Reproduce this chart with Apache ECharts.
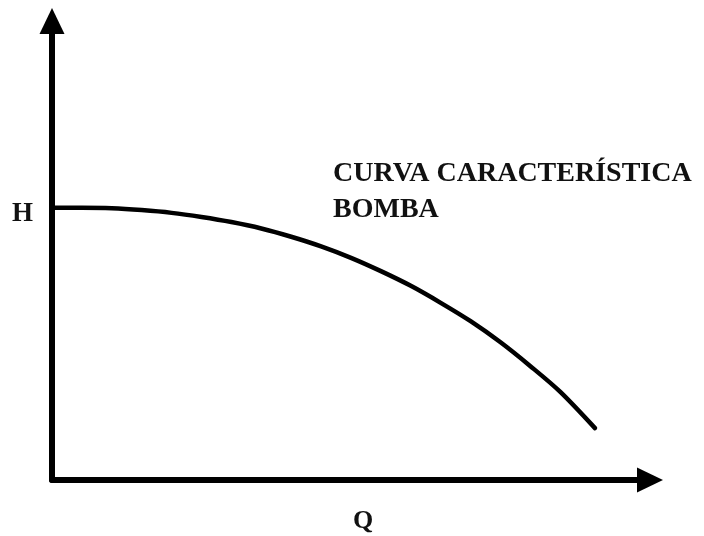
<!DOCTYPE html>
<html>
<head>
<meta charset="utf-8">
<script src="https://cdn.jsdelivr.net/npm/echarts@6/dist/echarts.min.js"></script>
<style>
  html, body { margin: 0; padding: 0; background: #fff; }
  #chart { width: 704px; height: 536px; }
</style>
</head>
<body>
<div id="chart"></div>
<script>
// caudal Q (eje x, 0-100) y altura H (eje y, 0-100)
const flow = [0, 5, 10, 15, 20, 25, 30, 35, 40, 45, 50, 55, 60, 65, 70, 75, 80, 85, 90.8];
const head = [59.3, 59.3, 59.2, 58.8, 58.2, 57.3, 56.2, 54.8, 53.0, 50.9, 48.4, 45.5, 42.3, 38.6, 34.6, 30.0, 24.8, 19.2, 11.3];
const xName = "Q";
const yName = "H";
const curveLabel = ["CURVA CARACTERÍSTICA", "BOMBA"];

const serif = "'Liberation Serif', 'DejaVu Serif', serif";
const chart = echarts.init(document.getElementById("chart"));

const axisLine = {
  show: true,
  symbol: ["none", "triangle"],
  symbolSize: [25, 26],
  lineStyle: { color: "#000", width: 6 },
};

chart.setOption({
  animation: false,
  grid: { left: 52, right: 54, top: 21, bottom: 56 },
  xAxis: {
    type: "value",
    min: 0,
    max: 100,
    axisLine,
    axisTick: { show: false },
    axisLabel: { show: false },
    splitLine: { show: false },
  },
  yAxis: {
    type: "value",
    min: 0,
    max: 100,
    axisLine,
    axisTick: { show: false },
    axisLabel: { show: false },
    splitLine: { show: false },
  },
  series: [
    {
      type: "line",
      data: flow.map((q, i) => [q, head[i]]),
      smooth: 0.3,
      showSymbol: false,
      lineStyle: { color: "#000", width: 4.5, cap: "round" },
    },
  ],
  graphic: [
    {
      type: "text",
      left: 12,
      top: 201,
      style: { text: yName, font: "bold 27px " + serif, fill: "#111" },
    },
    {
      type: "text",
      left: 353,
      top: 508,
      style: { text: xName, font: "bold 26px " + serif, fill: "#111" },
    },
    {
      type: "text",
      left: 333,
      top: 156,
      style: {
        text: curveLabel.join("\n"),
        font: "bold 28px " + serif,
        lineHeight: 36,
        fill: "#111",
      },
    },
  ],
});
</script>
</body>
</html>
